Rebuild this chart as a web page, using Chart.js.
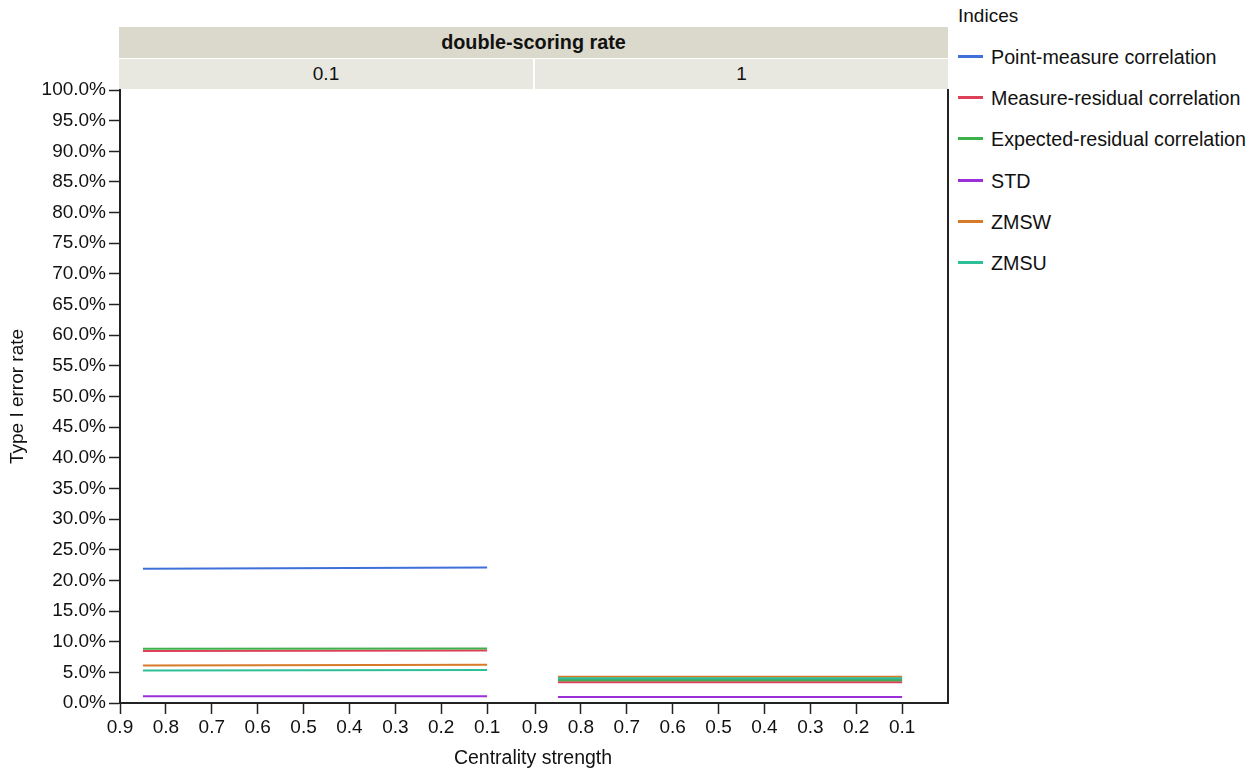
<!DOCTYPE html>
<html>
<head>
<meta charset="utf-8">
<script src="https://cdn.jsdelivr.net/npm/chart.js@4.4.1/dist/chart.umd.min.js"></script>
<style>
  body { margin: 0; background: #fff; font-family: "Liberation Sans", Arial, sans-serif; color: #111; }
  #wrap { position: relative; width: 1257px; height: 769px; overflow: hidden; }
  canvas { position: absolute; top: 0; }
  .strip { position: absolute; text-align: center; font-size: 19px; }
  #xtitle { position: absolute; left: 333px; width: 400px; top: 746px; text-align: center; font-size: 19.5px; }
  #legend { position: absolute; left: 958px; top: 0; font-size: 19.7px; }
  .item { position: absolute; left: 0; white-space: nowrap; height: 22px; line-height: 22px; }
  .sw { position: absolute; left: 0; top: 9px; width: 25px; height: 3px; }
  .lbl { position: absolute; left: 33px; top: 0; }
</style>
</head>
<body>
<div id="wrap">
  <div class="strip" style="left:119px;top:27px;width:829px;height:31px;line-height:31px;background:#dbd9cb;font-weight:bold;font-size:19.8px">double-scoring rate</div>
  <div class="strip" id="cell0" style="left:119px;top:59px;width:414px;height:30px;line-height:30px;background:#e8e8e0"></div>
  <div class="strip" id="cell1" style="left:535px;top:59px;width:413px;height:30px;line-height:30px;background:#e8e8e0"></div>
  <canvas id="c1" width="534" height="769" style="left:0"></canvas>
  <canvas id="c2" width="436" height="769" style="left:515px"></canvas>
  <div id="xtitle">Centrality strength</div>
  <div id="legend"></div>
</div>
<script>
// facet levels and x positions (centrality strength) of the line ends
const rates = ['0.1', '1'];
const centrality = [0.85, 0.1];
const indices = ['Point-measure correlation', 'Measure-residual correlation', 'Expected-residual correlation', 'STD', 'ZMSW', 'ZMSU'];
const colors = ['#3f6fd8', '#dd4157', '#3db14a', '#9a30d6', '#d77a2a', '#2dbf98'];

// type I error rate (%) per index, at centrality 0.85 and 0.1
const rate01Values = [
  [21.9, 22.1],
  [8.5, 8.55],
  [8.85, 8.9],
  [1.1, 1.1],
  [6.1, 6.25],
  [5.3, 5.4]
];
const rate1Values = [
  [3.7, 3.7],
  [3.38, 3.38],
  [3.7, 3.7],
  [0.98, 0.98],
  [4.3, 4.3],
  [4.05, 4.05]
];

document.getElementById('cell0').textContent = rates[0];
document.getElementById('cell1').textContent = rates[1];

// legend
let leg = document.getElementById('legend');
let head = document.createElement('div');
head.className = 'item';
head.style.top = '5px';
head.style.fontSize = '19px';
head.textContent = 'Indices';
leg.appendChild(head);
indices.forEach((name, i) => {
  let it = document.createElement('div');
  it.className = 'item';
  it.style.top = (46 + i * 41.2) + 'px';
  it.innerHTML = '<div class="sw" style="background:' + colors[i] + '"></div><div class="lbl">' + name + '</div>';
  leg.appendChild(it);
});

Chart.defaults.font.family = '"Liberation Sans", Arial, sans-serif';
Chart.defaults.font.size = 19;
Chart.defaults.color = '#111';

function makeSets(values) {
  return indices.map((name, i) => ({
    label: name,
    data: centrality.map((x, j) => ({ x: x, y: values[i][j] })),
    borderColor: colors[i],
    backgroundColor: colors[i],
    borderWidth: 2,
    pointRadius: 0,
    order: indices.length - i
  }));
}

function xAxis() {
  return {
    type: 'linear', min: 0, max: 0.9, reverse: true,
    ticks: { stepSize: 0.1, autoSkip: false, maxRotation: 0, padding: 2, callback: v => v.toFixed(1) },
    grid: { drawOnChartArea: false, tickLength: 11, tickColor: '#222', tickWidth: 1.5 },
    border: { color: '#222', width: 2 },
    afterBuildTicks: s => { s.ticks = s.ticks.filter(t => t.value > 0.05); },
    afterFit: s => { s.height = 66; }
  };
}

let chart1 = new Chart(document.getElementById('c1').getContext('2d'), {
  type: 'line',
  data: { datasets: makeSets(rate01Values) },
  options: {
    responsive: false, animation: false,
    layout: { padding: { top: 90, right: 1, left: 0, bottom: 0 } },
    plugins: { legend: { display: false }, tooltip: { enabled: false } },
    scales: {
      x: xAxis(),
      y: {
        min: 0, max: 100,
        ticks: { stepSize: 5, padding: 3, callback: v => v.toFixed(1) + '%' },
        grid: { drawOnChartArea: false, tickLength: 11, tickColor: '#222', tickWidth: 1.5 },
        border: { color: '#222', width: 2 },
        title: { display: true, text: 'Type I error rate', padding: { top: 6, bottom: 4 } },
        afterFit: s => { s.width = 120; }
      }
    }
  }
});

let chart2 = new Chart(document.getElementById('c2').getContext('2d'), {
  type: 'line',
  data: { datasets: makeSets(rate1Values) },
  options: {
    responsive: false, animation: false,
    layout: { padding: { top: 90, right: 2, left: 20, bottom: 0 } },
    plugins: { legend: { display: false }, tooltip: { enabled: false } },
    scales: {
      x: xAxis(),
      y: {
        position: 'right', min: 0, max: 100,
        ticks: { display: false },
        grid: { drawOnChartArea: false, drawTicks: false },
        border: { color: '#222', width: 2 },
        afterFit: s => { s.width = 1; }
      }
    }
  }
});
</script>
</body>
</html>
